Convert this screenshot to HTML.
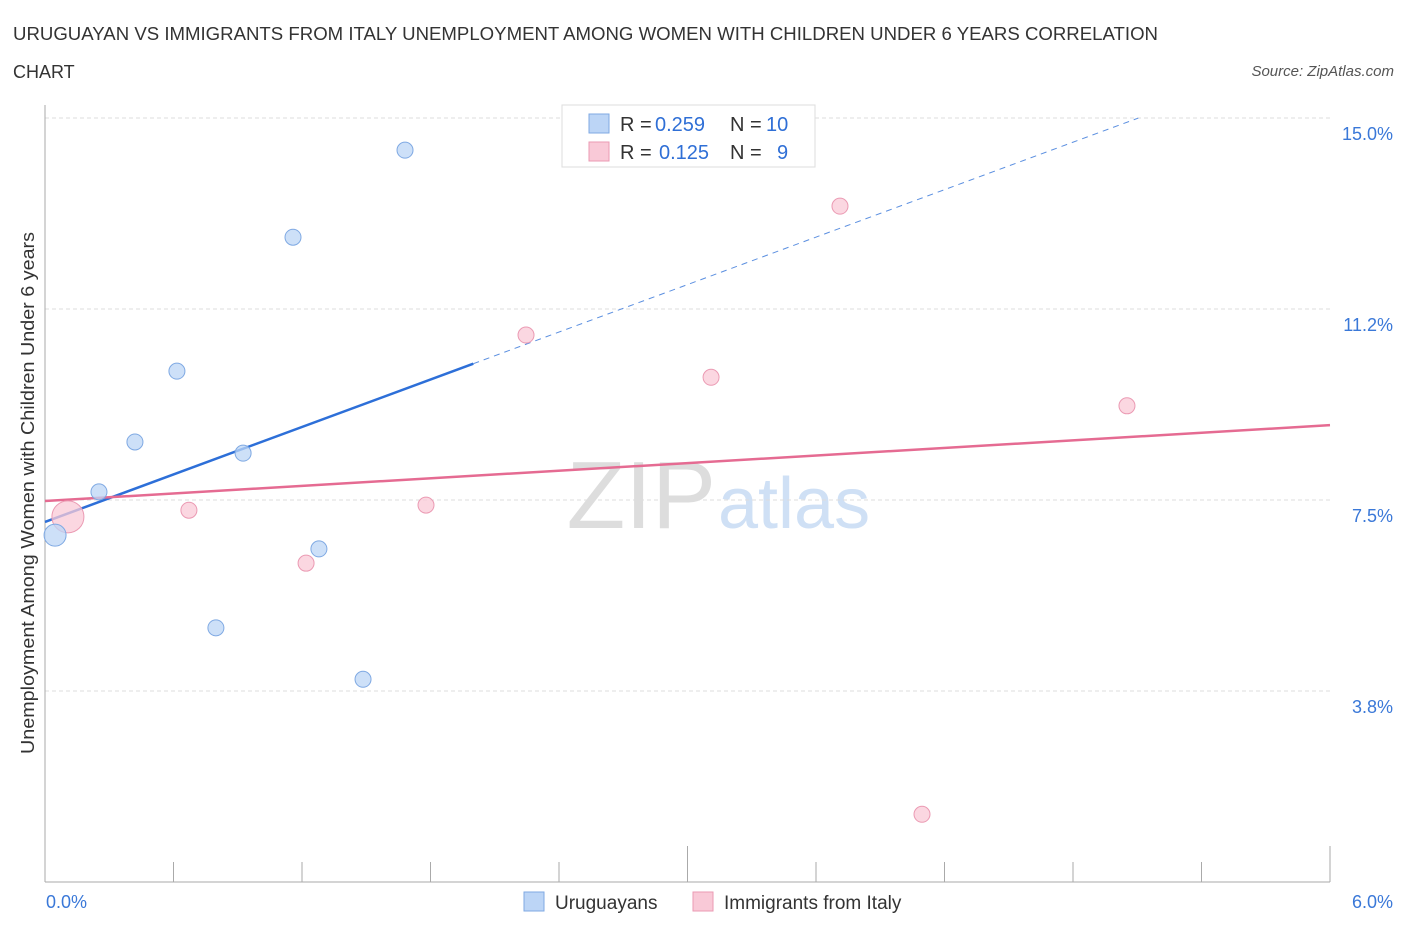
<!DOCTYPE html>
<html><head><meta charset="utf-8"><style>
body{margin:0;background:#fff;font-family:"Liberation Sans",sans-serif;}
svg text{font-family:"Liberation Sans",sans-serif;}
</style></head><body>
<svg id="c" width="1406" height="930" xmlns="http://www.w3.org/2000/svg">
<text x="13" y="40" font-size="18" fill="#333" textLength="1145" lengthAdjust="spacingAndGlyphs">URUGUAYAN VS IMMIGRANTS FROM ITALY UNEMPLOYMENT AMONG WOMEN WITH CHILDREN UNDER 6 YEARS CORRELATION</text>
<text x="13" y="78" font-size="18" fill="#333">CHART</text>
<text x="1394" y="76" font-size="15" fill="#555" font-style="italic" text-anchor="end">Source: ZipAtlas.com</text>
<text x="716" y="528" font-size="96" fill="#ddd" text-anchor="end" font-family="Liberation Serif">ZIP</text>
<text x="718" y="528" font-size="72" fill="#cfe0f5">atlas</text>
<text transform="translate(34,493) rotate(-90)" font-size="18" fill="#333" text-anchor="middle" textLength="522" lengthAdjust="spacingAndGlyphs">Unemployment Among Women with Children Under 6 years</text>
<g id="axes"></g><g id="lines"></g><g id="pts"></g>
<g>
<rect x="562" y="105" width="253" height="62" fill="#fff" stroke="#ddd"/>
<rect x="589" y="114" width="20" height="19" fill="#bcd5f6" stroke="#7fa9e3"/>
<rect x="589" y="142" width="20" height="19" fill="#f9c9d7" stroke="#eb9ab3"/>
<g font-size="20" fill="#333">
<text x="620" y="131">R =</text>
<text x="655" y="131" fill="#2f6fd6">0.259</text>
<text x="730" y="131">N =</text>
<text x="766" y="131" fill="#2f6fd6">10</text>
<text x="620" y="159">R =</text>
<text x="659" y="159" fill="#2f6fd6">0.125</text>
<text x="730" y="159">N =</text>
<text x="777" y="159" fill="#2f6fd6">9</text>
</g>
</g>
<rect x="524" y="892" width="20" height="19" fill="#bcd5f6" stroke="#7fa9e3"/>
<text x="555" y="909" font-size="19" fill="#333">Uruguayans</text>
<rect x="693" y="892" width="20" height="19" fill="#f9c9d7" stroke="#eb9ab3"/>
<text x="724" y="909" font-size="19" fill="#333">Immigrants from Italy</text>
</svg>
<script>
const blueX=[0.047,0.252,0.420,0.616,0.798,0.925,1.158,1.279,1.485,1.681];
const blueY=[6.81,7.66,8.64,10.03,4.99,8.42,12.66,6.54,3.98,14.37];
const blueR=[11,8,8,8,8,8,8,8,8,8];
const pinkX=[0.107,0.672,1.219,1.779,2.246,3.110,3.712,4.095,5.052];
const pinkY=[7.17,7.30,6.26,7.40,10.74,9.91,13.27,1.33,9.35];
const pinkR=[16,8,8,8,8,8,8,8,8];
const yTickLabels=["15.0%","11.2%","7.5%","3.8%"];
const yGrid=[15,11.25,7.5,3.75];
const blueTrend=[7.07,16.39];
const pinkTrend=[7.48,8.97];
const NS="http://www.w3.org/2000/svg";
const X=v=>45+v/6*1285, Y=v=>882-v*50.93;
function mk(t,a,p){const e=document.createElementNS(NS,t);for(const k in a)e.setAttribute(k,a[k]);p.appendChild(e);return e;}
const ax=document.getElementById('axes');
yGrid.forEach((g,i)=>{
 const l=mk('line',{x1:45,x2:1330,y1:Y(g),y2:Y(g),stroke:'#ddd','stroke-dasharray':'4,3'},ax);
 
 
 const t=mk('text',{x:1393,y:Y(g)+22,'font-size':18,fill:'#3a78d8','text-anchor':'end'},ax);t.textContent=yTickLabels[i];
 
 
});
let a=mk('line',{x1:45,x2:45,y1:105,y2:882,stroke:'#aaa'},ax);


a=mk('line',{x1:45,x2:1330,y1:882,y2:882,stroke:'#aaa'},ax);


for(let i=1;i<=10;i++){const x=45+i*128.5;const top=(i%5===0)?846:862;const t=mk('line',{x1:x,x2:x,y1:top,y2:882,stroke:'#aaa'},ax);
 
 }
let t=mk('text',{x:46,y:908,'font-size':18,fill:'#3a78d8'},ax);t.textContent='0.0%';


t=mk('text',{x:1393,y:908,'font-size':18,fill:'#3a78d8','text-anchor':'end'},ax);t.textContent='6.0%';


const ln=document.getElementById('lines');
const by=x=>blueTrend[0]+(blueTrend[1]-blueTrend[0])*x/6;
let l=mk('line',{x1:X(0),y1:Y(by(0)),x2:X(2),y2:Y(by(2)),stroke:'#2d6fd8','stroke-width':2.5},ln);


const xe=(15-blueTrend[0])/(blueTrend[1]-blueTrend[0])*6;
l=mk('line',{x1:X(2),y1:Y(by(2)),x2:X(xe),y2:Y(by(xe)),stroke:'#5b8fe0','stroke-width':1,'stroke-dasharray':'6,5'},ln);


l=mk('line',{x1:X(0),y1:Y(pinkTrend[0]),x2:X(6),y2:Y(pinkTrend[1]),stroke:'#e56b92','stroke-width':2.5},ln);


const pg=document.getElementById('pts');
pinkX.forEach((x,i)=>{const c=mk('circle',{cx:X(x),cy:Y(pinkY[i]),r:pinkR[i],fill:'#f9c9d7','fill-opacity':0.75,stroke:'#eb9ab3'},pg);
 
 });
blueX.forEach((x,i)=>{const c=mk('circle',{cx:X(x),cy:Y(blueY[i]),r:blueR[i],fill:'#bcd5f6','fill-opacity':0.75,stroke:'#7fa9e3'},pg);
 
 });
</script>
</body></html>
